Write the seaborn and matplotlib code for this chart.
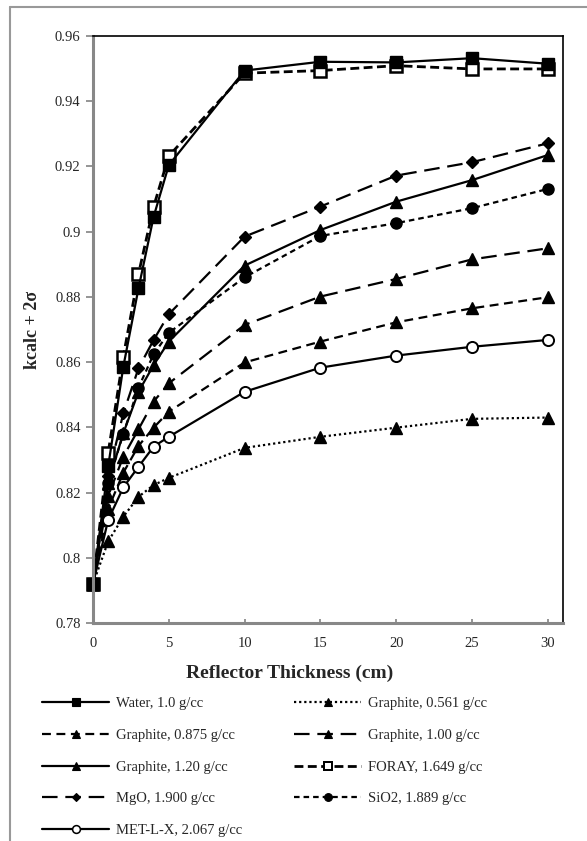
import matplotlib
matplotlib.use("Agg")
import matplotlib.pyplot as plt
import seaborn as sns
import numpy as np
from matplotlib.lines import Line2D
from matplotlib.ticker import FuncFormatter

thickness = [0, 1, 2, 3, 4, 5, 10, 15, 20, 25, 30]

water      = [0.792, 0.828, 0.8586, 0.8826, 0.9046, 0.9204, 0.9494, 0.9521, 0.9519, 0.9532, 0.9515]
gr_0561    = [0.792, 0.805, 0.8126, 0.8187, 0.8223, 0.8245, 0.8337, 0.8371, 0.8399, 0.8426, 0.8430]
gr_0875    = [0.792, 0.815, 0.8261, 0.8343, 0.8399, 0.8448, 0.8599, 0.8663, 0.8722, 0.8765, 0.8799]
gr_100     = [0.792, 0.819, 0.8310, 0.8394, 0.8479, 0.8535, 0.8714, 0.8801, 0.8855, 0.8915, 0.8949]
gr_120     = [0.792, 0.823, 0.8382, 0.8509, 0.8591, 0.8663, 0.8896, 0.9005, 0.9092, 0.9158, 0.9235]
foray      = [0.792, 0.8322, 0.8617, 0.8870, 0.9077, 0.9232, 0.9486, 0.9494, 0.9509, 0.9499, 0.9499]
mgo        = [0.792, 0.825, 0.8443, 0.8581, 0.8668, 0.8747, 0.8985, 0.9077, 0.9172, 0.9213, 0.9271]
sio2       = [0.792, 0.823, 0.8380, 0.8522, 0.8624, 0.8690, 0.8860, 0.8987, 0.9026, 0.9072, 0.9131]
metlx      = [0.792, 0.8116, 0.8216, 0.8279, 0.8341, 0.8371, 0.8509, 0.8583, 0.8620, 0.8647, 0.8668]

labels = ["Water, 1.0 g/cc", "Graphite, 0.561 g/cc", "Graphite, 0.875 g/cc",
          "Graphite, 1.00 g/cc", "Graphite, 1.20 g/cc", "FORAY, 1.649 g/cc",
          "MgO, 1.900 g/cc", "SiO2, 1.889 g/cc", "MET-L-X, 2.067 g/cc"]
series = [water, gr_0561, gr_0875, gr_100, gr_120, foray, mgo, sio2, metlx]

styles = [
    dict(marker="s", ms=8, mfc="black", ls="-", lw=1.6),
    dict(marker="^", ms=8, mfc="black", ls=(0, (1, 1.3)), lw=1.6),
    dict(marker="^", ms=8, mfc="black", ls=(0, (4, 2.5)), lw=1.6),
    dict(marker="^", ms=8, mfc="black", ls=(0, (7, 3.5)), lw=1.6),
    dict(marker="^", ms=8, mfc="black", ls="-", lw=1.6),
    dict(marker="s", ms=8, mfc="white", ls=(0, (3.2, 1.6)), lw=2.0, mew=1.8),
    dict(marker="D", ms=6, mfc="black", ls=(0, (7, 3.5)), lw=1.6),
    dict(marker="o", ms=8, mfc="black", ls=(0, (2.5, 1.8)), lw=1.6),
    dict(marker="o", ms=8, mfc="white", ls="-", lw=1.6, mew=1.4),
]

sns.set_theme(style="white")
plt.rcParams["font.family"] = ["Liberation Serif", "DejaVu Serif"]

fig = plt.figure(figsize=(5.87, 8.41), dpi=100)
ax = fig.add_axes([93/587, 1-623/841, (563-93)/587, (623-36)/841])

handles = []
order = [1, 2, 3, 7, 8, 4, 6, 5, 0]
for i in order:
    st = styles[i]
    sns.lineplot(x=thickness, y=series[i], ax=ax, color="black",
                 marker=st["marker"], markersize=st["ms"], markerfacecolor=st["mfc"],
                 markeredgecolor="black", markeredgewidth=st.get("mew", 1.0),
                 linestyle=st["ls"], linewidth=st["lw"], legend=False, clip_on=False)
for i in range(9):
    st = styles[i]
    handles.append(Line2D([0], [0], color="black", marker=st["marker"],
                          markersize=st["ms"]*0.7, markerfacecolor=st["mfc"],
                          markeredgecolor="black", markeredgewidth=st.get("mew", 1.0)*0.8,
                          linestyle=st["ls"], linewidth=st["lw"]))

ax.set_xlim(0, 31)
ax.set_ylim(0.78, 0.96)
ax.set_xticks([0, 5, 10, 15, 20, 25, 30])
ax.set_yticks(np.arange(0.78, 0.9601, 0.02))
ax.yaxis.set_major_formatter(FuncFormatter(lambda v, p: f"{v:.2f}".rstrip("0").rstrip(".") if v else "0"))
ax.tick_params(axis="x", direction="in", length=3, color="#888888", labelsize=10.5, pad=10)
ax.tick_params(axis="y", direction="out", length=5, color="#888888", labelsize=10.5, pad=4)
ax.tick_params(bottom=True, left=True)
for s in ["top", "right"]:
    ax.spines[s].set_color("black")
    ax.spines[s].set_linewidth(1.2)
for s in ["left", "bottom"]:
    ax.spines[s].set_color("#888888")
    ax.spines[s].set_linewidth(2.2)

fig.text(290/587, 1-673/841, "Reflector Thickness (cm)", fontsize=14, fontweight="bold",
         ha="center", va="center")
ax.set_ylabel("kcalc + 2σ", fontsize=13, fontweight="bold", labelpad=10)

leg_order = [0, 2, 4, 6, 8, 1, 3, 5, 7]
fig.legend([handles[i] for i in leg_order], [labels[i] for i in leg_order],
           ncol=2, loc="upper left", bbox_to_anchor=(42/587, 1-697/841),
           frameon=False, fontsize=10.5, handlelength=4.6, handletextpad=0.45,
           labelspacing=1.27, columnspacing=3.6, borderpad=0, borderaxespad=0)

# outer gray frame (partially cropped)
fig.add_artist(Line2D([10/587, 1.0], [1-7/841, 1-7/841], transform=fig.transFigure, color="#999999", lw=1.5))
fig.add_artist(Line2D([10/587, 10/587], [0, 1-7/841], transform=fig.transFigure, color="#999999", lw=1.5))

fig.savefig("out.png", dpi=100, facecolor="white")
